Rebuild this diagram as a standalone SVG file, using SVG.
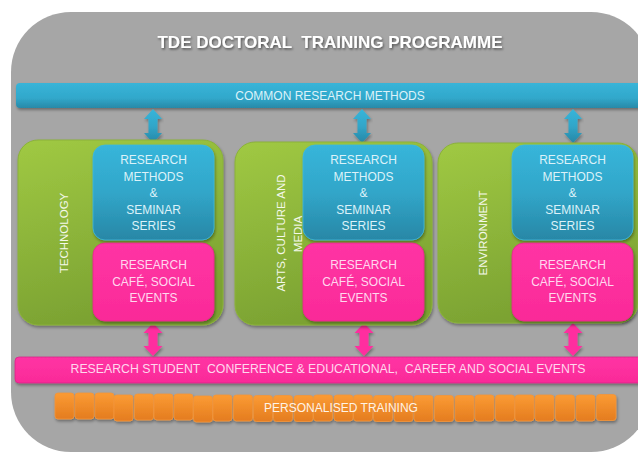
<svg xmlns="http://www.w3.org/2000/svg" width="638" height="454" viewBox="0 0 638 454">
<defs>
<linearGradient id="gBlue" x1="0" y1="0" x2="0" y2="1"><stop offset="0" stop-color="#37b5da"/><stop offset="0.5" stop-color="#31a6c9"/><stop offset="1" stop-color="#2887a6"/></linearGradient>
<linearGradient id="gBar" x1="0" y1="0" x2="0" y2="1"><stop offset="0" stop-color="#38b4d8"/><stop offset="0.6" stop-color="#31a8cb"/><stop offset="1" stop-color="#2889a8"/></linearGradient>
<linearGradient id="gPink" x1="0" y1="0" x2="0" y2="1"><stop offset="0" stop-color="#ff34a4"/><stop offset="1" stop-color="#fa2a98"/></linearGradient>
<linearGradient id="gGreen" x1="0" y1="0" x2="0.3" y2="1"><stop offset="0" stop-color="#a0c943"/><stop offset="1" stop-color="#7ba232"/></linearGradient>
<linearGradient id="gOrange" x1="0" y1="0" x2="0" y2="1"><stop offset="0" stop-color="#fb9b34"/><stop offset="1" stop-color="#e47c1f"/></linearGradient>
<filter id="sh" x="-10%" y="-10%" width="120%" height="130%"><feDropShadow dx="1" dy="2" stdDeviation="1.5" flood-color="#000" flood-opacity="0.35"/></filter>
<filter id="tsh" x="-5%" y="-30%" width="110%" height="160%"><feDropShadow dx="1" dy="1.5" stdDeviation="1" flood-color="#000" flood-opacity="0.5"/></filter>
<style>
text{font-family:"Liberation Sans",Arial,sans-serif;text-anchor:middle}
.title{font-size:17px;font-weight:bold;fill:#ffffff}
.bt{font-size:12px;fill:#dcf2f9}
.pt{font-size:12px;fill:#ffd8ee}
.wide{font-size:12.3px}
.gt{font-size:11.5px;fill:#f4f8ea}
.ot{font-size:12px;fill:#fff3e6}
.green{fill:url(#gGreen);stroke:#8bb23a;stroke-width:1}
.blue{fill:url(#gBlue);stroke:#3db9dc;stroke-width:0.8}
.pink{fill:url(#gPink);stroke:#e8268e;stroke-width:0.8}
.orange{fill:url(#gOrange);stroke:#f3963a;stroke-width:0.8}
.ab{fill:url(#gBlue)}
.ap{fill:#ff2d9f}
</style>
</defs>
<rect x="11" y="12" width="640" height="440" rx="60" fill="#a6a6a6"/>
<text class="title" x="330" y="48" filter="url(#tsh)" xml:space="preserve">TDE DOCTORAL  TRAINING PROGRAMME</text>

<g id="common-bar">
<rect x="16" y="83" width="640" height="25" rx="4" fill="url(#gBar)" filter="url(#sh)"/>
<text class="bt" x="330" y="100">COMMON RESEARCH METHODS</text>
</g>

<g id="connectors">
<path class="ab" filter="url(#sh)" d="M153,109 L162,119 L157.5,119 L157.5,133 L162,133 L153,143 L144,133 L148.5,133 L148.5,119 L144,119 Z"/>
<path class="ab" filter="url(#sh)" d="M362,109 L371,119 L366.5,119 L366.5,133 L371,133 L362,143 L353,133 L357.5,133 L357.5,119 L353,119 Z"/>
<path class="ab" filter="url(#sh)" d="M573,109 L582,119 L577.5,119 L577.5,133 L582,133 L573,143 L564,133 L568.5,133 L568.5,119 L564,119 Z"/>
<path class="ap" filter="url(#sh)" d="M153,323 L162.5,333 L157.5,333 L157.5,346 L162.5,346 L153,356 L143.5,346 L148.5,346 L148.5,333 L143.5,333 Z"/>
<path class="ap" filter="url(#sh)" d="M364,323 L373.5,333 L368.5,333 L368.5,346 L373.5,346 L364,356 L354.5,346 L359.5,346 L359.5,333 L354.5,333 Z"/>
<path class="ap" filter="url(#sh)" d="M573,323 L582.5,333 L577.5,333 L577.5,346 L582.5,346 L573,356 L563.5,346 L568.5,346 L568.5,333 L563.5,333 Z"/>
</g>

<g id="technology">
<rect class="green" x="18" y="140" width="205" height="185" rx="20" filter="url(#sh)"/>
<text class="gt" transform="translate(68,233) rotate(-90)">TECHNOLOGY</text>
<rect class="blue" x="93" y="145" width="121" height="95" rx="12" filter="url(#sh)"/>
<text class="bt" x="153.5" y="164">RESEARCH</text>
<text class="bt" x="153.5" y="181">METHODS</text>
<text class="bt" x="153.5" y="197">&amp;</text>
<text class="bt" x="153.5" y="214">SEMINAR</text>
<text class="bt" x="153.5" y="230">SERIES</text>
<rect class="pink" x="93" y="243" width="121" height="78" rx="12" filter="url(#sh)"/>
<text class="pt" x="153.5" y="269">RESEARCH</text>
<text class="pt" x="153.5" y="286">CAFÉ, SOCIAL</text>
<text class="pt" x="153.5" y="302">EVENTS</text>
</g>

<g id="arts">
<rect class="green" x="235" y="142" width="197" height="183" rx="20" filter="url(#sh)"/>
<text class="gt" transform="translate(285,233) rotate(-90)">ARTS, CULTURE AND</text>
<text class="gt" transform="translate(302,234) rotate(-90)">MEDIA</text>
<rect class="blue" x="303" y="145" width="121" height="95" rx="12" filter="url(#sh)"/>
<text class="bt" x="363.5" y="164">RESEARCH</text>
<text class="bt" x="363.5" y="181">METHODS</text>
<text class="bt" x="363.5" y="197">&amp;</text>
<text class="bt" x="363.5" y="214">SEMINAR</text>
<text class="bt" x="363.5" y="230">SERIES</text>
<rect class="pink" x="303" y="243" width="121" height="78" rx="12" filter="url(#sh)"/>
<text class="pt" x="363.5" y="269">RESEARCH</text>
<text class="pt" x="363.5" y="286">CAFÉ, SOCIAL</text>
<text class="pt" x="363.5" y="302">EVENTS</text>
</g>

<g id="environment">
<rect class="green" x="438" y="143" width="200" height="180" rx="20" filter="url(#sh)"/>
<text class="gt" transform="translate(487,233) rotate(-90)">ENVIRONMENT</text>
<rect class="blue" x="512" y="145" width="121" height="95" rx="12" filter="url(#sh)"/>
<text class="bt" x="572.5" y="164">RESEARCH</text>
<text class="bt" x="572.5" y="181">METHODS</text>
<text class="bt" x="572.5" y="197">&amp;</text>
<text class="bt" x="572.5" y="214">SEMINAR</text>
<text class="bt" x="572.5" y="230">SERIES</text>
<rect class="pink" x="512" y="243" width="121" height="78" rx="12" filter="url(#sh)"/>
<text class="pt" x="572.5" y="269">RESEARCH</text>
<text class="pt" x="572.5" y="286">CAFÉ, SOCIAL</text>
<text class="pt" x="572.5" y="302">EVENTS</text>
</g>

<g id="conference-bar">
<rect x="15" y="357" width="640" height="26" rx="4" fill="url(#gPink)" stroke="#d92488" stroke-width="0.8" filter="url(#sh)"/>
<text class="pt wide" x="328" y="373" xml:space="preserve">RESEARCH STUDENT  CONFERENCE &amp; EDUCATIONAL,  CAREER AND SOCIAL EVENTS</text>
</g>

<g id="personalised-training" filter="url(#sh)">
<rect class="orange" x="55" y="393" width="19" height="26" rx="3"/>
<rect class="orange" x="75" y="393" width="19" height="26" rx="3"/>
<rect class="orange" x="95" y="393" width="19" height="26" rx="3"/>
<rect class="orange" x="114" y="395" width="19" height="26" rx="3"/>
<rect class="orange" x="134.5" y="394" width="19" height="26" rx="3"/>
<rect class="orange" x="154" y="394" width="19" height="26" rx="3"/>
<rect class="orange" x="174" y="394" width="19" height="26" rx="3"/>
<rect class="orange" x="193.5" y="396" width="19" height="26" rx="3"/>
<rect class="orange" x="213" y="395" width="19" height="26" rx="3"/>
<rect class="orange" x="233.5" y="395" width="19" height="26" rx="3"/>
<rect class="orange" x="253.5" y="395.5" width="19" height="26" rx="3"/>
<rect class="orange" x="273.5" y="395.5" width="19" height="26" rx="3"/>
<rect class="orange" x="294" y="395.5" width="19" height="26" rx="3"/>
<rect class="orange" x="313.5" y="395" width="19" height="26" rx="3"/>
<rect class="orange" x="334" y="395" width="19" height="26" rx="3"/>
<rect class="orange" x="353.5" y="395" width="19" height="26" rx="3"/>
<rect class="orange" x="373.5" y="395.5" width="19" height="26" rx="3"/>
<rect class="orange" x="394" y="395.5" width="19" height="26" rx="3"/>
<rect class="orange" x="414" y="395.5" width="19" height="26" rx="3"/>
<rect class="orange" x="434.5" y="395.5" width="19" height="26" rx="3"/>
<rect class="orange" x="455" y="395.5" width="19" height="26" rx="3"/>
<rect class="orange" x="475" y="395" width="19" height="26" rx="3"/>
<rect class="orange" x="495.5" y="395" width="19" height="26" rx="3"/>
<rect class="orange" x="515" y="395" width="19" height="26" rx="3"/>
<rect class="orange" x="535" y="395" width="19" height="26" rx="3"/>
<rect class="orange" x="555.5" y="395" width="19" height="26" rx="3"/>
<rect class="orange" x="576" y="395" width="19" height="26" rx="3"/>
<rect class="orange" x="596.5" y="394.5" width="19.5" height="26" rx="3"/>
</g>
<text class="ot" x="341" y="412">PERSONALISED TRAINING</text>
</svg>
